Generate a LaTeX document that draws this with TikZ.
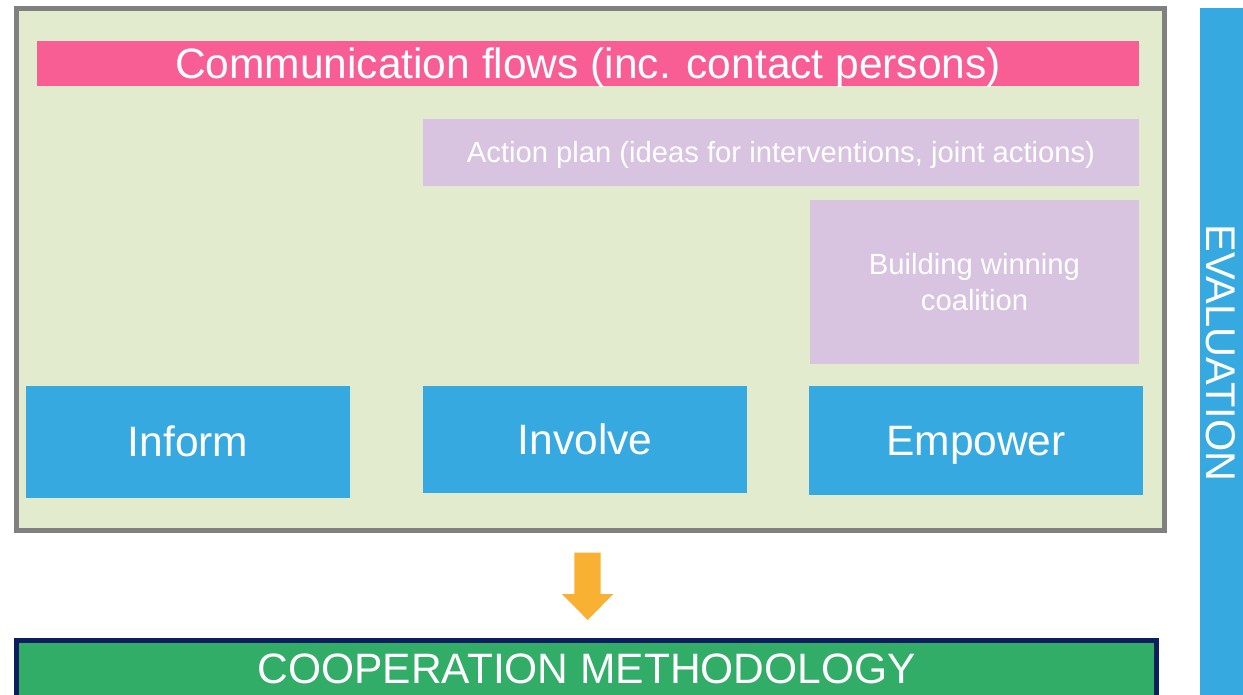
\documentclass[tikz,border=0pt]{standalone}
\usepackage{xcolor}
\usepackage{fontspec}
\setmainfont{Liberation Sans}
\usepackage{tikz}

\definecolor{frameFill}{HTML}{E2EBCD}
\definecolor{frameLine}{HTML}{808080}
\definecolor{commPink}{HTML}{F85E93}
\definecolor{planLilac}{HTML}{D8C4E0}
\definecolor{stepBlue}{HTML}{36A9E1}
\definecolor{arrowOrange}{HTML}{F8B133}
\definecolor{methGreen}{HTML}{32AD67}
\definecolor{methNavy}{HTML}{0B1F5E}

\begin{document}
\begin{tikzpicture}[x=1pt,y=1pt,yscale=-1,xscale=1,
  bar/.style={fill=#1,inner sep=0pt,text=white,align=center},
  big/.style={font=\fontsize{42.5}{50}\selectfont,text height=30.5pt,text depth=0pt},
  small/.style={font=\fontsize{29.2}{35.7}\selectfont}]
\clip (0,0) rectangle (1243,694);
\fill [white] (0,0) rectangle (1243,694);
%Frame
\draw (590.25,269.5) node [bar=frameFill,draw=frameLine,line width=5pt,minimum width=1147.5pt,minimum height=522pt] (frame) {};
\draw (588,63.5) node [bar=commPink,big,minimum width=1102pt,minimum height=45pt] (comm) {Communication flows (inc. contact persons)};
\draw (781,152.4) node [bar=planLilac,small,minimum width=716pt,minimum height=66.7pt,text height=21pt,text depth=0pt] (plan) {Action plan (ideas for interventions, joint actions)};
\draw (974.5,281.9) node [bar=planLilac,small,minimum width=329pt,minimum height=163.7pt] (coalition) {Building winning\\coalition};
%Steps
\draw (188,441.7) node [bar=stepBlue,big,minimum width=324pt,minimum height=111.7pt] (inform) {Inform};
\draw (585,439.5) node [bar=stepBlue,big,minimum width=324pt,minimum height=107pt] (involve) {Involve};
\draw (976,440.3) node [bar=stepBlue,big,minimum width=334pt,minimum height=108.7pt] (empower) {Empower};
%Evaluation
\draw (1221.5,353) node [bar=stepBlue,big,font=\fontsize{41.5}{50}\selectfont,rotate=-90,minimum width=690pt,minimum height=43pt] (eval) {EVALUATION};
%Arrow
\coordinate (arrTop) at (587.5,552.7);
\fill [arrowOrange] (arrTop) ++(-13.2,0) -- ++(26.4,0) -- ++(0,41.3) -- ++(12.6,0) -- (587.7,620) -- (562,594) -- ++(12.3,0) -- cycle;
%Method
\draw (586.65,675.3) node [bar=methGreen,draw=methNavy,line width=5pt,big,text depth=13.6pt,minimum width=1140.3pt,minimum height=70pt] (method) {COOPERATION METHODOLOGY};
\end{tikzpicture}
\end{document}
